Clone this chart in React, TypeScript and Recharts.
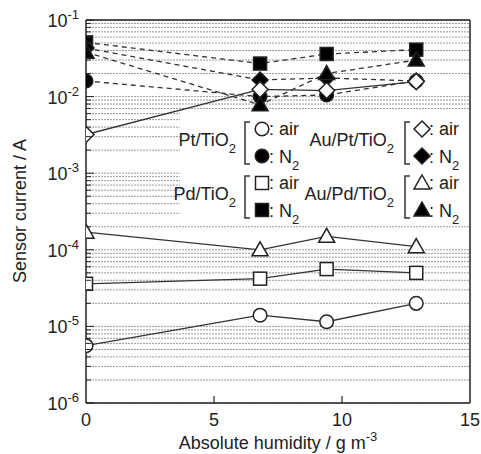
import React from 'react';
import {
  LineChart,
  Line,
  XAxis,
  YAxis,
  CartesianGrid,
  ReferenceArea,
  ReferenceLine,
} from 'recharts';

// absolute humidity (g m^-3) at which each sensor was measured
const humidity = [0, 6.8, 9.4, 12.9];

// sensor current (A), in air
const ptAir = [5.6e-6, 1.4e-5, 1.15e-5, 2.0e-5];
const pdAir = [3.6e-5, 4.2e-5, 5.6e-5, 5.0e-5];
const auPdAir = [1.7e-4, 1.0e-4, 1.5e-4, 1.1e-4];
const auPtAir = [3.2e-3, 1.24e-2, 1.2e-2, 1.57e-2];

// sensor current (A), in N2
const ptN2 = [1.6e-2, 1.0e-2, 1.05e-2, 1.6e-2];
const pdN2 = [5.1e-2, 2.7e-2, 3.6e-2, 4.1e-2];
const auPtN2 = [4.3e-2, 1.65e-2, 1.75e-2, 1.6e-2];
const auPdN2 = [3.8e-2, 7.8e-3, 2.0e-2, 3.0e-2];

const xTicks = [0, 5, 10, 15];
const decadeExponents = [-6, -5, -4, -3, -2, -1];
const minorSteps = [2, 3, 4, 5, 6, 7, 8, 9];

const decadeTicks = decadeExponents.map((e) => Math.pow(10, e));
const yTicks: number[] = [];
decadeExponents.forEach((e, i) => {
  yTicks.push(decadeTicks[i]);
  if (e < -1) minorSteps.forEach((m) => yTicks.push(m * Math.pow(10, e)));
});

const data = humidity.map((h, i) => ({
  h,
  ptAir: ptAir[i],
  pdAir: pdAir[i],
  auPdAir: auPdAir[i],
  auPtAir: auPtAir[i],
  ptN2: ptN2[i],
  pdN2: pdN2[i],
  auPtN2: auPtN2[i],
  auPdN2: auPdN2[i],
}));

const INK = '#222';
const FONT = 'Arial, "Liberation Sans", sans-serif';

type Shape = 'circle' | 'square' | 'diamond' | 'triangle';

const Marker = ({ cx, cy, shape, filled }: { cx: number; cy: number; shape: Shape; filled: boolean }) => {
  const p = { fill: filled ? '#000' : '#fff', stroke: INK, strokeWidth: 1.5 };
  if (shape === 'circle') return <circle cx={cx} cy={cy} r={6.8} {...p} />;
  if (shape === 'square') return <rect x={cx - 6.5} y={cy - 6.5} width={13} height={13} {...p} />;
  if (shape === 'diamond')
    return <polygon points={`${cx},${cy - 8} ${cx + 8},${cy} ${cx},${cy + 8} ${cx - 8},${cy}`} {...p} />;
  return <polygon points={`${cx},${cy - 8} ${cx + 8},${cy + 6} ${cx - 8},${cy + 6}`} {...p} />;
};

const dotFor = (shape: Shape, filled: boolean) => (props: any) => {
  const { cx, cy, index, dataKey } = props;
  return <Marker key={`${dataKey}-${index}`} cx={cx} cy={cy} shape={shape} filled={filled} />;
};

const YTick = (props: any) => {
  const { x, y, payload } = props;
  const idx = decadeTicks.indexOf(payload.value);
  const major = idx >= 0;
  return (
    <g>
      <line x1={x} x2={x + (major ? 8 : 5)} y1={y} y2={y} stroke={INK} strokeWidth={1} />
      {major && (
        <text x={x - 7} y={y + 7} textAnchor="end" fontSize={18} fill={INK} fontFamily={FONT}>
          10
          <tspan dy={-8} fontSize={13}>
            {String(decadeExponents[idx])}
          </tspan>
        </text>
      )}
    </g>
  );
};

const XTick = (props: any) => {
  const { x, y, payload } = props;
  const v = payload.value;
  return (
    <g>
      {v !== 0 && v !== 15 && <line x1={x} x2={x} y1={y} y2={y - 7} stroke={INK} strokeWidth={1.2} />}
      <text x={x} y={y + 23} textAnchor="middle" fontSize={18} fill={INK} fontFamily={FONT}>
        {v}
      </text>
    </g>
  );
};

const Bracket = ({ x, y1, y2 }: { x: number; y1: number; y2: number }) => (
  <path d={`M${x + 5},${y1} H${x} V${y2} H${x + 5}`} fill="none" stroke="#333" strokeWidth={1.5} />
);

const Sub2 = () => (
  <tspan dy={7} fontSize={13}>
    2
  </tspan>
);

const LegendEntry = ({
  x,
  y,
  name,
  shape,
  nameEnd,
}: {
  x: number;
  y: number;
  name: string;
  shape: Shape;
  nameEnd: number;
}) => (
  <g fontFamily={FONT} fill={INK}>
    <text x={nameEnd} y={y + 17} textAnchor="end" fontSize={18}>
      {name}
      <Sub2 />
    </text>
    <Bracket x={x - 17} y1={y - 7} y2={y + 35} />
    <Marker cx={x} cy={y} shape={shape} filled={false} />
    <text x={x + 7} y={y + 6} fontSize={18}>
      : air
    </text>
    <Marker cx={x} cy={y + 27} shape={shape} filled />
    <text x={x + 7} y={y + 34} fontSize={18}>
      : N
      <Sub2 />
    </text>
  </g>
);

const App = () => {
  return (
    <div style={{ position: 'absolute', left: 0, top: 0, width: 481, height: 454, background: '#fff' }}>
      <LineChart width={481} height={454} data={data} margin={{ top: 20, right: 11, bottom: 0, left: 0 }}>
        <CartesianGrid vertical={false} stroke="#9a9a9a" strokeDasharray="2 1" strokeWidth={1} />
        <ReferenceArea x1={3.67} x2={15} y1={2.5e-4} y2={6.4e-3} fill="#fff" fillOpacity={1} stroke="none" />
        <XAxis
          dataKey="h"
          type="number"
          domain={[0, 15]}
          ticks={xTicks}
          interval={0}
          tickSize={0}
          tickMargin={0}
          tick={<XTick />}
          height={51}
          axisLine={{ stroke: INK, strokeWidth: 1.5 }}
          allowDataOverflow
        />
        <YAxis
          type="number"
          scale="log"
          domain={[1e-6, 1e-1]}
          ticks={yTicks}
          interval={0}
          tickSize={0}
          tickMargin={0}
          tick={<YTick />}
          width={86}
          axisLine={{ stroke: INK, strokeWidth: 1.5 }}
          allowDataOverflow
        />
        <ReferenceLine y={1e-1} stroke={INK} strokeWidth={1.5} />
        <ReferenceLine x={15} stroke={INK} strokeWidth={1.5} />

        <Line dataKey="ptN2" stroke="#333" strokeWidth={1.3} strokeDasharray="5 4" dot={dotFor('circle', true)} isAnimationActive={false} />
        <Line dataKey="pdN2" stroke="#333" strokeWidth={1.3} strokeDasharray="5 4" dot={dotFor('square', true)} isAnimationActive={false} />
        <Line dataKey="auPtN2" stroke="#333" strokeWidth={1.3} strokeDasharray="5 4" dot={dotFor('diamond', true)} isAnimationActive={false} />
        <Line dataKey="auPdN2" stroke="#333" strokeWidth={1.3} strokeDasharray="5 4" dot={dotFor('triangle', true)} isAnimationActive={false} />

        <Line dataKey="ptAir" stroke="#333" strokeWidth={1.3} dot={dotFor('circle', false)} isAnimationActive={false} />
        <Line dataKey="pdAir" stroke="#333" strokeWidth={1.3} dot={dotFor('square', false)} isAnimationActive={false} />
        <Line dataKey="auPdAir" stroke="#333" strokeWidth={1.3} dot={dotFor('triangle', false)} isAnimationActive={false} />
        <Line dataKey="auPtAir" stroke="#333" strokeWidth={1.3} dot={dotFor('diamond', false)} isAnimationActive={false} />
      </LineChart>

      <svg
        width={481}
        height={454}
        style={{ position: 'absolute', left: 0, top: 0, pointerEvents: 'none' }}
      >
        <LegendEntry x={262} y={129} name="Pt/TiO" shape="circle" nameEnd={236} />
        <LegendEntry x={422} y={129} name="Au/Pt/TiO" shape="diamond" nameEnd={394} />
        <LegendEntry x={262} y={183} name="Pd/TiO" shape="square" nameEnd={236} />
        <LegendEntry x={422} y={183} name="Au/Pd/TiO" shape="triangle" nameEnd={394} />

        <text
          x={20}
          y={211}
          transform="rotate(-90 20 211)"
          textAnchor="middle"
          dominantBaseline="central"
          fontSize={18}
          fill={INK}
          fontFamily={FONT}
        >
          Sensor current / A
        </text>
        <text x={278} y={449} textAnchor="middle" fontSize={18} fill={INK} fontFamily={FONT}>
          Absolute humidity / g m
          <tspan dy={-8} fontSize={13}>
            -3
          </tspan>
        </text>
      </svg>
    </div>
  );
};

export default App;
